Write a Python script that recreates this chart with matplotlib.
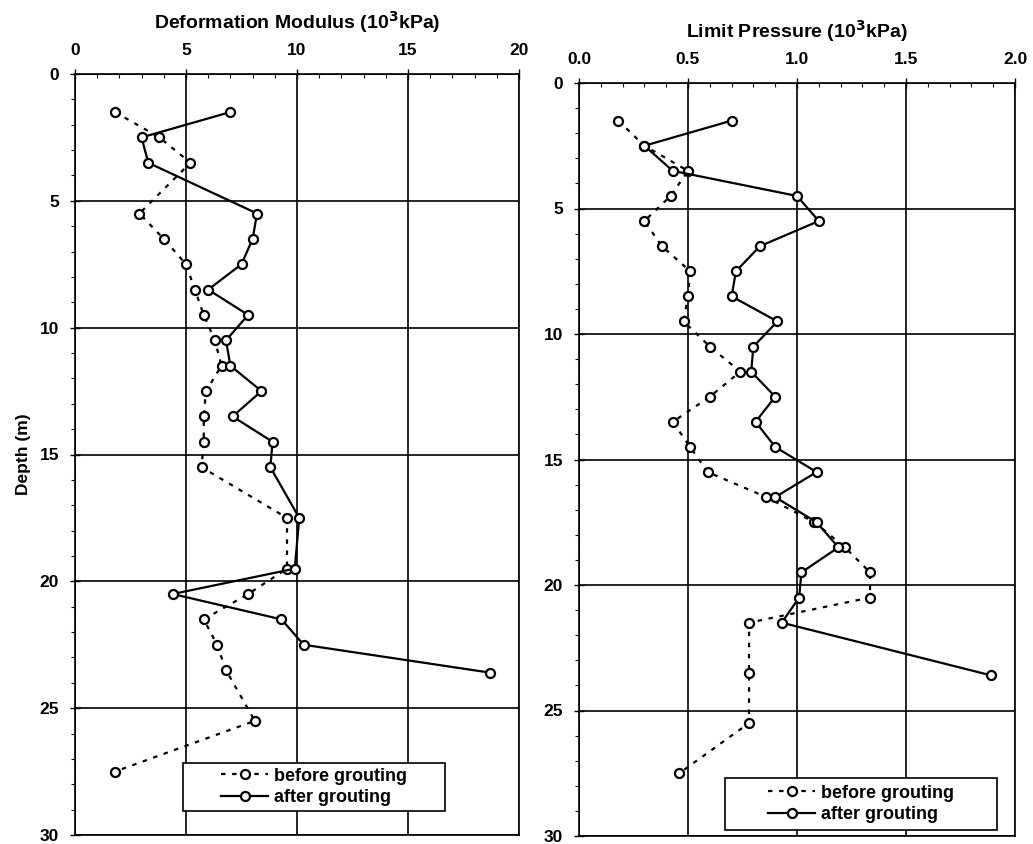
import matplotlib
matplotlib.use('Agg')
import matplotlib.pyplot as plt
from matplotlib.patches import Rectangle
from matplotlib.ticker import MultipleLocator

plt.rcParams['font.family'] = ['Liberation Sans', 'DejaVu Sans']
plt.rcParams['font.weight'] = 'bold'

# deformation modulus (10^3 kPa)
dm_before_depth = [1.5, 2.5, 3.5, 5.5, 6.5, 7.5, 8.5, 9.5, 10.5, 11.5, 12.5, 13.5, 14.5, 15.5,
                   17.5, 19.5, 20.5, 21.5, 22.5, 23.5, 25.5, 27.5]
dm_before = [1.8, 3.8, 5.2, 2.9, 4.0, 5.0, 5.4, 5.8, 6.3, 6.6, 5.9, 5.8, 5.8, 5.7,
             9.55, 9.55, 7.8, 5.8, 6.4, 6.8, 8.1, 1.8]
dm_after_depth = [1.5, 2.5, 3.5, 5.5, 6.5, 7.5, 8.5, 9.5, 10.5, 11.5, 12.5, 13.5, 14.5, 15.5,
                  17.5, 19.5, 20.5, 21.5, 22.5, 23.6]
dm_after = [7.0, 3.0, 3.3, 8.2, 8.0, 7.5, 6.0, 7.8, 6.8, 7.0, 8.4, 7.1, 8.9, 8.8,
            10.1, 9.9, 4.4, 9.3, 10.3, 18.7]

# limit pressure (10^3 kPa)
lp_before_depth = [1.5, 2.5, 3.5, 4.5, 5.5, 6.5, 7.5, 8.5, 9.5, 10.5, 11.5, 12.5, 13.5, 14.5,
                   15.5, 16.5, 17.5, 18.5, 19.5, 20.5, 21.5, 23.5, 25.5, 27.5]
lp_before = [0.18, 0.30, 0.50, 0.42, 0.30, 0.38, 0.51, 0.50, 0.48, 0.60, 0.74, 0.60, 0.43, 0.51,
             0.59, 0.86, 1.08, 1.22, 1.335, 1.335, 0.78, 0.78, 0.78, 0.46]
lp_after_depth = [1.5, 2.5, 3.5, 4.5, 5.5, 6.5, 7.5, 8.5, 9.5, 10.5, 11.5, 12.5, 13.5, 14.5,
                  15.5, 16.5, 17.5, 18.5, 19.5, 20.5, 21.5, 23.6]
lp_after = [0.70, 0.30, 0.43, 1.00, 1.10, 0.83, 0.72, 0.70, 0.91, 0.80, 0.79, 0.90, 0.81, 0.90,
            1.09, 0.90, 1.09, 1.19, 1.02, 1.01, 0.93, 1.89]

W, H = 1033, 844
fig = plt.figure(figsize=(W / 100, H / 100), dpi=100)
ax1 = fig.add_axes([75 / W, 1 - 835 / H, (519 - 75) / W, (835 - 74) / H])
ax2 = fig.add_axes([579 / W, 1 - 836 / H, (1015 - 579) / W, (836 - 83) / H])


def style_axis(ax, xmax, xmajor, xminor, title, fmt):
    ax.set_xlim(0, xmax)
    ax.set_ylim(30, 0)
    ax.xaxis.tick_top()
    ax.xaxis.set_label_position('top')
    ax.xaxis.set_major_locator(MultipleLocator(xmajor))
    ax.xaxis.set_minor_locator(MultipleLocator(xminor))
    ax.yaxis.set_major_locator(MultipleLocator(5))
    ax.yaxis.set_minor_locator(MultipleLocator(1))
    ax.set_xticklabels([fmt % v for v in ax.get_xticks()])
    ax.grid(True, which='major', color='black', linewidth=1.2)
    ax.tick_params(which='major', direction='inout', length=7, width=1, labelsize=12.5, pad=8)
    ax.tick_params(axis='x', which='minor', direction='in', length=3, width=0.8)
    ax.tick_params(axis='y', which='minor', direction='out', length=3, width=0.8)
    ax.tick_params(top=True, bottom=False, right=False)
    ax.set_xlabel(title, fontsize=14, fontweight='bold', labelpad=10)
    for sp in ax.spines.values():
        sp.set_linewidth(1.2)
    for lbl in ax.get_xticklabels() + ax.get_yticklabels():
        lbl.set_fontweight('bold')


mk = dict(marker='o', markersize=6.5, markerfacecolor='white', markeredgecolor='black',
          markeredgewidth=1.6, color='black')

ax1.plot(dm_before, dm_before_depth, linestyle=(0, (2, 3)), linewidth=1.6, label='before grouting', **mk)
ax1.plot(dm_after, dm_after_depth, linestyle='-', linewidth=1.6, label='after grouting', **mk)
style_axis(ax1, 20, 5, 1, 'Deformation Modulus (10$^\\mathbf{3}$kPa)', '%d')
ax1.set_ylabel('Depth (m)', fontsize=12.5, fontweight='bold', labelpad=6)

ax2.plot(lp_before, lp_before_depth, linestyle=(0, (2, 3)), linewidth=1.6, label='before grouting', **mk)
ax2.plot(lp_after, lp_after_depth, linestyle='-', linewidth=1.6, label='after grouting', **mk)
style_axis(ax2, 2.0, 0.5, 0.1, 'Limit Pressure (10$^\\mathbf{3}$kPa)', '%.1f')

# legend boxes (left, top, right, bottom) in pixels; frame drawn separately so
# the entries sit centred in a wider box like the reference
for ax, box in ((ax1, (183, 763, 445, 811)), (ax2, (725, 778, 997, 830))):
    x0, y0, x1, y1 = box
    ax.add_patch(Rectangle((x0 / W, 1 - y1 / H), (x1 - x0) / W, (y1 - y0) / H,
                           transform=fig.transFigure, facecolor='white', edgecolor='black',
                           linewidth=1.2, zorder=4.9, clip_on=False))
    ax.legend(loc='center', bbox_to_anchor=((x0 + x1) / 2 / W, 1 - (y0 + y1) / 2 / H),
              bbox_transform=fig.transFigure, frameon=False,
              prop={'weight': 'bold', 'size': 13}, handlelength=2.6,
              handletextpad=0.3, borderpad=0.3, labelspacing=0.25, borderaxespad=0)

fig.savefig('out.png', dpi=100)
